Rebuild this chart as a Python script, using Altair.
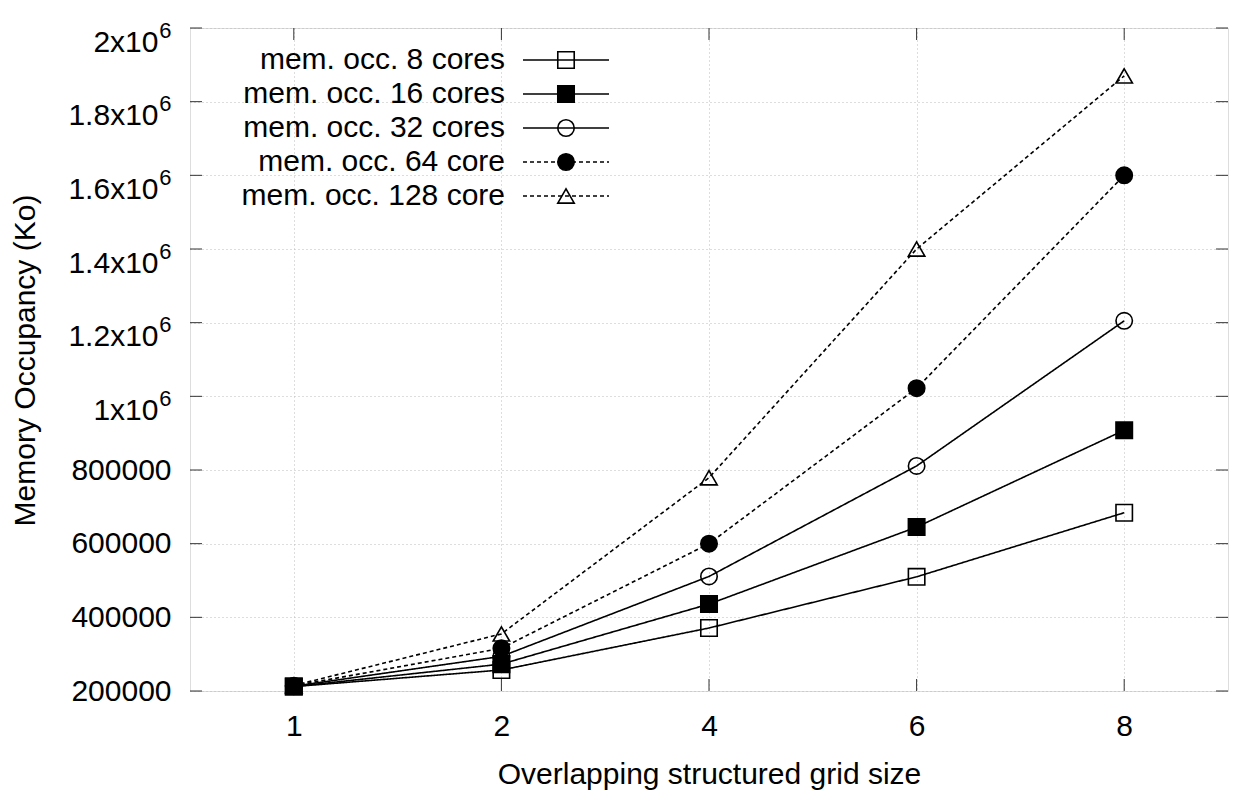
import altair as alt
import pandas as pd

# ---------------- data ----------------
sizes = ['1', '2', '4', '6', '8']
series = ['mem. occ. 8 cores', 'mem. occ. 16 cores', 'mem. occ. 32 cores',
          'mem. occ. 64 core', 'mem. occ. 128 core']
mem_8 = [212000, 257000, 371000, 510000, 684000]
mem_16 = [212000, 273000, 436000, 645000, 908000]
mem_32 = [213000, 294000, 511000, 811000, 1205000]
mem_64 = [214000, 316000, 600000, 1022000, 1600000]
mem_128 = [215000, 355000, 779000, 1400000, 1870000]
y_ticks = [200000, 400000, 600000, 800000, 1000000, 1200000, 1400000,
           1600000, 1800000, 2000000]

# ---------------- styles / layout ----------------
shapes = ['square', 'square', 'circle', 'circle', 'triangle-up']
fills = ['transparent', 'black', 'transparent', 'black', 'transparent']
dashes = [[1, 0], [1, 0], [1, 0], [4, 3], [4, 3]]
legend_rows_px = [32, 66, 100, 134, 168]

W, H = 1038, 663
FONT = 'Liberation Sans'
FS = 30
MSIZE = 270

rows = []
for s, vals in zip(series, [mem_8, mem_16, mem_32, mem_64, mem_128]):
    for x, v in zip(sizes, vals):
        rows.append({'size': x, 'value': v, 'series': s})
df = pd.DataFrame(rows)
tick_df = pd.DataFrame({'v': y_ticks})
xt_df = pd.DataFrame({'size': sizes})
leg_df = pd.DataFrame({'series': series, 'ly': legend_rows_px})

xscale = alt.Scale(type='point', padding=0.5, domain=sizes)
yscale = alt.Scale(domain=[200000, 2000000], nice=False, zero=False)
shape_enc = alt.Shape('series:N', scale=alt.Scale(domain=series, range=shapes), legend=None)
fill_enc = alt.Fill('series:N', scale=alt.Scale(domain=series, range=fills), legend=None)
dash_enc = alt.StrokeDash('series:N', scale=alt.Scale(domain=series, range=dashes), legend=None)

x_axis = alt.Axis(title='Overlapping structured grid size', labelAngle=0, grid=True,
                  gridDash=[1, 3], gridColor='#bbbbbb', ticks=False, domain=False,
                  labelPadding=20, labelFontSize=FS, labelFont=FONT, labelColor='black',
                  titleFontSize=FS, titleFont=FONT, titleFontWeight='normal', titleColor='black',
                  titleX=W / 2, titleY=92, titleBaseline='alphabetic', titleAlign='center')
x_enc = alt.X('size:O', scale=xscale, sort=sizes, axis=x_axis)

y_axis = alt.Axis(title='Memory Occupancy (Ko)', values=y_ticks, grid=True, orient='left',
                  gridDash=[1, 3], gridColor='#bbbbbb', ticks=False, domain=False,
                  labelExpr="datum.value >= 1000000 ? format(datum.value / 1000000, '') + 'x10' : format(datum.value, 'd')",
                  labelPadding={'condition': {'test': 'datum.value >= 1000000', 'value': 32}, 'value': 19},
                  labelOffset={'condition': {'test': 'datum.value >= 1000000', 'value': 14}, 'value': 0},
                  labelFontSize=FS, labelFont=FONT, labelColor='black',
                  titleFontSize=FS, titleFont=FONT, titleFontWeight='normal', titleColor='black',
                  titleX=-156, titleY=332, titleAngle=270, titleBaseline='alphabetic',
                  titleAlign='center')

sup_axis = alt.Axis(orient='left', values=y_ticks, labelExpr="datum.value >= 1000000 ? '6' : ''",
                    labelFontSize=22, labelFont=FONT, labelColor='black', labelPadding=19,
                    labelOffset=2, ticks=False, domain=False, grid=False, title=None)

lines = alt.Chart(df).mark_line(color='black', strokeWidth=1.6).encode(
    x=x_enc,
    y=alt.Y('value:Q', scale=yscale, axis=y_axis),
    detail='series:N',
    strokeDash=dash_enc,
)

points = alt.Chart(df).mark_point(stroke='black', strokeWidth=1.6, opacity=1, size=MSIZE).encode(
    x=x_enc,
    y=alt.Y('value:Q', scale=yscale, axis=None),
    shape=shape_enc,
    fill=fill_enc,
)

sup = alt.Chart(tick_df).mark_point(opacity=0).encode(
    y=alt.Y('v:Q', scale=yscale, axis=sup_axis),
)

left_ticks = alt.Chart(tick_df).mark_rule(color='#333333', strokeWidth=1).encode(
    y=alt.Y('v:Q', scale=yscale, axis=None), x=alt.value(0), x2=alt.value(12))
right_ticks = alt.Chart(tick_df).mark_rule(color='#333333', strokeWidth=1).encode(
    y=alt.Y('v:Q', scale=yscale, axis=None), x=alt.value(W - 12), x2=alt.value(W))
bottom_ticks = alt.Chart(xt_df).mark_rule(color='#333333', strokeWidth=1).encode(
    x=x_enc, y=alt.value(H - 12), y2=alt.value(H))
top_ticks = alt.Chart(xt_df).mark_rule(color='#333333', strokeWidth=1).encode(
    x=x_enc, y=alt.value(0), y2=alt.value(12))

leg_text = alt.Chart(leg_df).mark_text(align='right', baseline='middle', fontSize=FS,
                                       font=FONT, color='black').encode(
    x=alt.value(315), y=alt.Y('ly:Q', scale=None, axis=None), text='series:N')
leg_line = alt.Chart(leg_df).mark_rule(color='black', strokeWidth=1.6).encode(
    x=alt.value(333), x2=alt.value(419), y=alt.Y('ly:Q', scale=None, axis=None), strokeDash=dash_enc)
leg_pts = alt.Chart(leg_df).mark_point(stroke='black', strokeWidth=1.6, opacity=1, size=MSIZE).encode(
    x=alt.value(376), y=alt.Y('ly:Q', scale=None, axis=None), shape=shape_enc, fill=fill_enc)

chart = alt.layer(
    lines, sup, left_ticks, right_ticks, bottom_ticks, top_ticks, points,
    leg_line, leg_pts, leg_text,
).resolve_axis(y='independent').properties(
    width=W, height=H,
    autosize=alt.AutoSizeParams(type='none'),
    padding={'left': 182, 'top': 20, 'right': 2, 'bottom': 100},
).configure_view(stroke='#333333', strokeWidth=1).configure(font=FONT)

chart.save('out.html', embed_options={'renderer': 'svg', 'actions': False})
